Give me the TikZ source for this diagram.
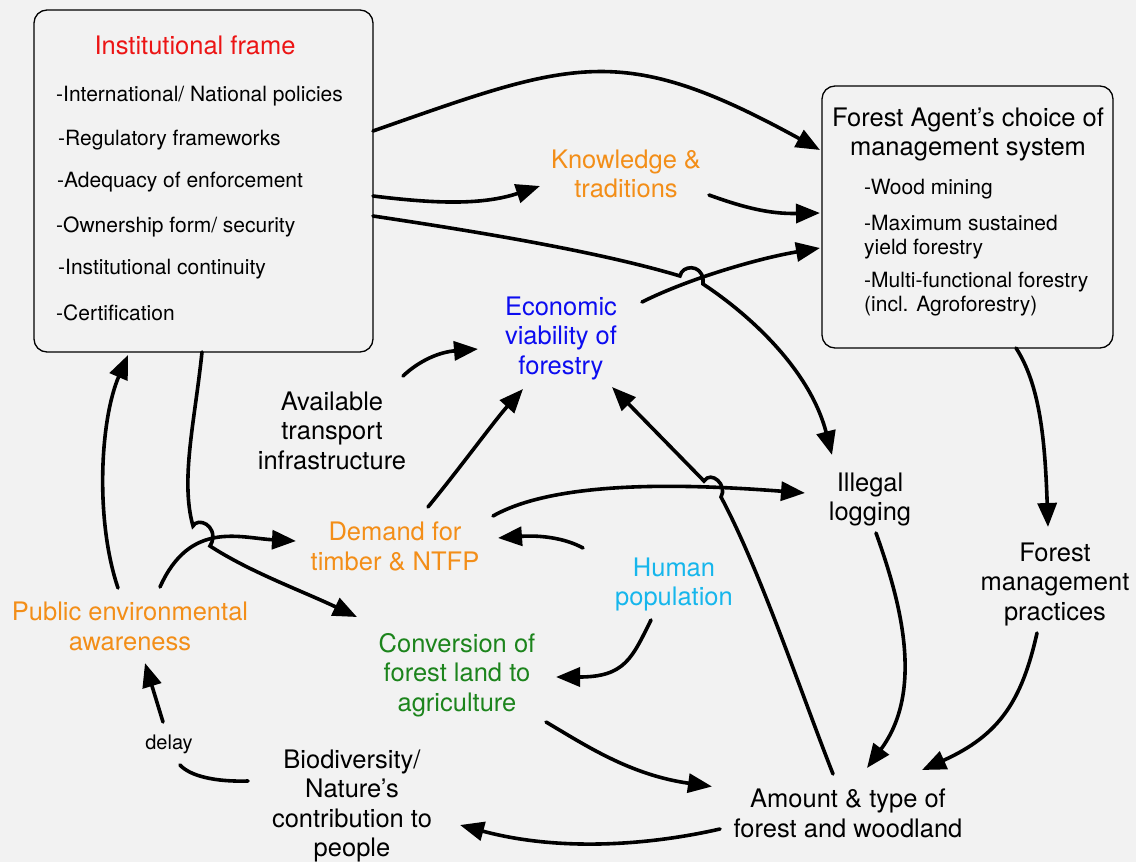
\documentclass[tikz,border=0pt]{standalone}
\usepackage{fontspec}
\setmainfont{TeX Gyre Heros}
\usetikzlibrary{arrows.meta}
\definecolor{bg}{RGB}{242,242,242}
\definecolor{cred}{RGB}{236,20,20}
\definecolor{corange}{RGB}{243,142,24}
\definecolor{cgreen}{RGB}{28,132,28}
\definecolor{cblue}{RGB}{12,12,240}
\definecolor{ccyan}{RGB}{22,182,236}
\begin{document}
\begin{tikzpicture}[x=1pt,y=-1pt,
  lbl/.style={align=center, font=\fontsize{25.5}{29.5}\selectfont, inner sep=0pt, yshift=-2pt},
  itm/.style={anchor=west, font=\fontsize{21}{24}\selectfont, inner sep=0pt, align=left, yshift=-1.5pt},
  box/.style={draw, line width=1.3pt, rounded corners=13pt, fill=bg, inner sep=0pt},
  conn/.style={line width=3.6pt, line cap=round, -{Triangle[length=24pt,width=19pt]}},
  plain/.style={line width=3.6pt, line cap=round}]
\fill[bg] (0,0) rectangle (1136,862);
\useasboundingbox (0,0) rectangle (1136,862);

% boxes
\node[box, minimum width=339pt, minimum height=342pt] (inst) at (203.5,181) {};
\node[lbl, text=cred] (insttitle) at (195,43) {Institutional frame};
\node[itm] (i1) at (56,95) {-International/ National policies};
\node[itm] (i2) at (58,139) {-Regulatory frameworks};
\node[itm] (i3) at (57,181) {-Adequacy of enforcement};
\node[itm] (i4) at (56,225) {-Ownership form/ security};
\node[itm] (i5) at (58,268) {-Institutional continuity};
\node[itm] (i6) at (56,311) {-Certification};

\node[box, minimum width=291pt, minimum height=262pt] (fa) at (967.5,217) {};
\node[lbl] (fatitle) at (968,132.5) {Forest Agent’s choice of\\management system};
\node[itm] (f1) at (864,188) {-Wood mining};
\node[itm] (f2) at (864,236) {-Maximum sustained\\yield forestry};
\node[itm] (f3) at (864,293) {-Multi-functional forestry\\(incl. Agroforestry)};

% labels
\node[lbl, text=corange] (know) at (626,172) {Knowledge \&\\traditions};
\node[lbl, text=cblue] (eco) at (561,336) {Economic\\viability of\\forestry};
\node[lbl] (avail) at (332,428.5) {Available\\transport\\infrastructure};
\node[lbl] (illegal) at (870,497.5) {Illegal\\logging};
\node[lbl, text=corange] (demand) at (395,544.5) {Demand for\\timber \& NTFP};
\node[lbl, text=ccyan] (human) at (674,582.5) {Human\\population};
\node[lbl] (fmp) at (1055,582) {Forest\\management\\practices};
\node[lbl, text=corange] (public) at (130,624.5) {Public environmental\\awareness};
\node[lbl, text=cgreen] (conv) at (457,673) {Conversion of\\forest land to\\agriculture};
\node[lbl] (bio) at (352,804) {Biodiversity/\\Nature’s\\contribution to\\people};
\node[lbl] (amount) at (848,811.5) {Amount \& type of\\forest and woodland};
\node[font=\fontsize{20}{24}\selectfont, inner sep=0pt] (delay) at (169,744) {delay};

% connectors
% a: institutional -> forest agent (top)
\draw[conn] ([shift={(169.5,-50)}]inst.center) .. controls (573,61) and (620,40) .. ([shift={(-147.5,-67)}]fa.center);
% b: institutional -> knowledge
\draw[conn] ([shift={(169.5,15)}]inst.center) .. controls (430,203) and (480,206) .. ([shift={(-86,12)}]know.center);
% c: knowledge -> forest agent
\draw[conn] ([shift={(83,21)}]know.center) .. controls (745,208) and (770,214) .. ([shift={(-147.5,-4)}]fa.center);
% e: economic -> forest agent
\draw[conn] ([shift={(81,-36)}]eco.center) .. controls (690,278) and (760,258) .. ([shift={(-147.5,31)}]fa.center);
% d: institutional -> illegal logging (hop over e)
\draw[conn] ([shift={(169.5,35)}]inst.center) .. controls (480,232) and (600,252) .. (680,276)
   .. controls (682,265) and (701,264) .. (703,279) -- (703,284)
   .. controls (750,315) and (810,370) .. ([shift={(-38,-44.5)}]illegal.center);
% f: transport -> economic
\draw[conn] ([shift={(71,-54.5)}]avail.center) .. controls (420,360) and (440,352) .. ([shift={(-83,11)}]eco.center);
% g: demand -> economic
\draw[conn] ([shift={(33,-39.5)}]demand.center) .. controls (460,468) and (495,420) .. ([shift={(-38,51)}]eco.center);
% h: demand -> illegal logging
\draw[conn] ([shift={(98,-30.5)}]demand.center) .. controls (560,478) and (700,485) .. ([shift={(-65,-6.5)}]illegal.center);
% i: amount -> economic (hop over h)
\draw[conn] ([shift={(-15,-39.5)}]amount.center) .. controls (800,690) and (760,570) .. (721,497)
   .. controls (728,485) and (711,470) .. (704,481)
   -- ([shift={(51,49)}]eco.center);
% j: human -> conversion
\draw[conn] ([shift={(-23,35.5)}]human.center) .. controls (632,658) and (625,677) .. ([shift={(99,2)}]conv.center);
% k: human -> demand
\draw[conn] ([shift={(-91,-36.5)}]human.center) .. controls (565,538) and (540,535) .. ([shift={(103,-8.5)}]demand.center);
% l: illegal -> amount
\draw[conn] ([shift={(6,33.5)}]illegal.center) .. controls (900,600) and (925,690) .. ([shift={(19,-45.5)}]amount.center);
% m: forest agent -> forest management practices
\draw[conn] ([shift={(48.5,131)}]fa.center) .. controls (1040,385) and (1045,440) .. ([shift={(-7,-57)}]fmp.center);
% n: practices -> amount
\draw[conn] ([shift={(-18,49)}]fmp.center) .. controls (1022,700) and (1000,735) .. ([shift={(74,-43.5)}]amount.center);
% o: conversion -> amount
\draw[conn] ([shift={(89,47)}]conv.center) .. controls (585,745) and (630,775) .. ([shift={(-136,-27)}]amount.center);
% p: amount -> biodiversity
\draw[conn] ([shift={(-128,15.5)}]amount.center) .. controls (650,845) and (560,852) .. ([shift={(108,19)}]bio.center);
% q: biodiversity -> (delay) -> public awareness
\draw[plain] ([shift={(-104,-25)}]bio.center) .. controls (215,782) and (190,776) .. ([shift={(11,21)}]delay.center);
\draw[conn] ([shift={(-6,-22)}]delay.center) -- ([shift={(15,36.5)}]public.center);
% r: public awareness -> institutional
\draw[conn] ([shift={(-12,-38.5)}]public.center) .. controls (95,520) and (100,420) .. ([shift={(-75.5,174)}]inst.center);
% s: public awareness -> demand
\draw[conn] ([shift={(30,-39.5)}]public.center) .. controls (190,520) and (240,538) .. ([shift={(-99,-5.5)}]demand.center);
% t: institutional -> conversion (hop over s)
\draw[conn] ([shift={(-1.5,171)}]inst.center) .. controls (195,420) and (180,480) .. (193,526)
   .. controls (198,517) and (217,525) .. (212,542) -- (210,546)
   .. controls (250,572) and (300,590) .. ([shift={(-100,-58)}]conv.center);
\end{tikzpicture}
\end{document}
